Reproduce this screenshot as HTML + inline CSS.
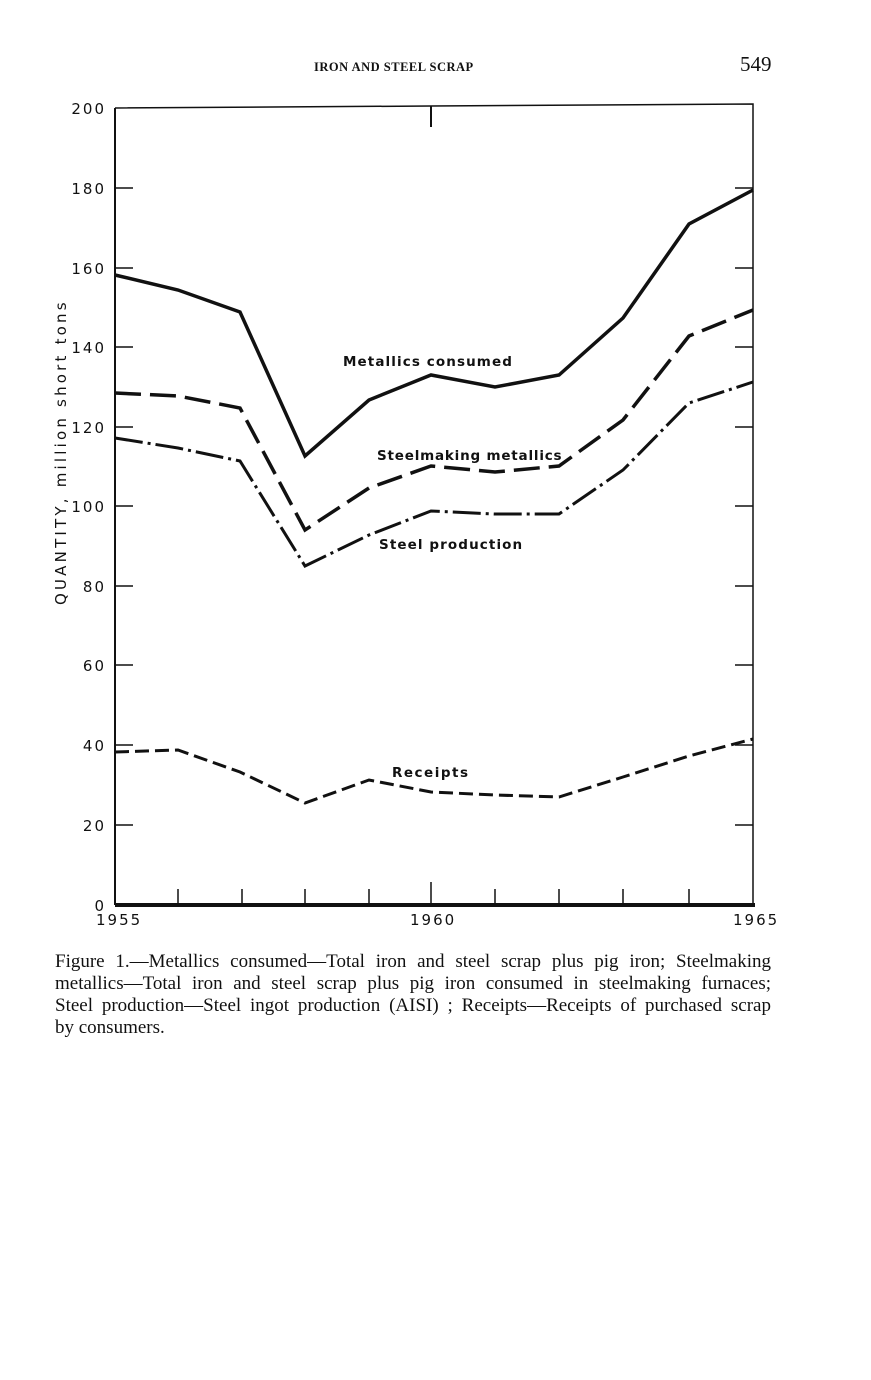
<!DOCTYPE html>
<html><head><style>
body{margin:0;background:#fff;width:871px;height:1380px;overflow:hidden;position:relative;font-family:"Liberation Serif",serif;color:#111}
.l{position:absolute;left:55px;width:716px;font-size:19px;line-height:22px;text-align:justify;text-align-last:justify;white-space:nowrap}
</style></head><body>
<div style="position:absolute;left:314px;top:60px;font-size:12.5px;font-weight:bold;letter-spacing:0.5px">IRON AND STEEL SCRAP</div>
<div style="position:absolute;left:740px;top:52px;font-size:21px">549</div>
<svg width="871" height="940" style="position:absolute;left:0;top:0" font-family="DejaVu Sans, Liberation Sans, sans-serif">
<g stroke="#111" fill="none">
<polyline points="115,108 431,106 753,104 753,905" stroke-width="1.5"/>
<line x1="115" y1="108" x2="115" y2="905" stroke-width="2"/>
<line x1="115" y1="905" x2="755" y2="905" stroke-width="4"/>
<line x1="431" y1="106" x2="431" y2="127" stroke-width="2"/>
<g stroke-width="1.5">
<line x1="178" y1="905" x2="178" y2="889"/><line x1="242" y1="905" x2="242" y2="889"/><line x1="305" y1="905" x2="305" y2="889"/><line x1="369" y1="905" x2="369" y2="889"/><line x1="431" y1="905" x2="431" y2="882"/><line x1="495" y1="905" x2="495" y2="889"/><line x1="559" y1="905" x2="559" y2="889"/><line x1="623" y1="905" x2="623" y2="889"/><line x1="689" y1="905" x2="689" y2="889"/>
<path d="M115 188h18M115 268h18M115 347h18M115 427h18M115 506h18M115 586h18M115 665h18M115 745h18M115 825h18"/>
<path d="M735 188h18M735 268h18M735 347h18M735 427h18M735 506h18M735 586h18M735 665h18M735 745h18M735 825h18"/>
</g>
<polyline stroke-width="3.5" points="115,275 178,290 240,312 305,456 369,400 431,375 495,387 559,375 623,318 689,224 753,190"/>
<polyline stroke-width="3.5" stroke-dasharray="26,9" points="115,393 178,396 240,408 305,530 369,488 431,466 495,472 559,466 623,420 689,336 753,310"/>
<polyline stroke-width="3" stroke-dasharray="28,5,3,5" points="115,438 178,448 240,461 305,566 369,535 431,511 495,514 559,514 623,470 689,403 753,382"/>
<polyline stroke-width="3" stroke-dasharray="14,6" points="115,752 178,750 240,772 305,803 369,780 431,792 495,795 559,797 623,777 689,756 753,739"/>
</g>
<g font-size="15" fill="#111" text-anchor="end" letter-spacing="2">
<text x="106" y="114">200</text><text x="106" y="194">180</text><text x="106" y="274">160</text><text x="106" y="353">140</text><text x="106" y="433">120</text><text x="106" y="512">100</text><text x="106" y="592">80</text><text x="106" y="671">60</text><text x="106" y="751">40</text><text x="106" y="831">20</text><text x="106" y="911">0</text>
</g>
<g font-size="15" fill="#111" letter-spacing="2">
<text x="96" y="925">1955</text><text x="410" y="925">1960</text><text x="733" y="925">1965</text>
<text transform="translate(66,605) rotate(-90)" font-size="15" letter-spacing="3.2">QUANTITY, million short tons</text>
<text x="343" y="366" font-size="13.5" font-weight="bold" letter-spacing="1.1">Metallics consumed</text>
<text x="377" y="460" font-size="13.5" font-weight="bold" letter-spacing="0.8">Steelmaking metallics</text>
<text x="379" y="549" font-size="13.5" font-weight="bold" letter-spacing="1.1">Steel production</text>
<text x="392" y="777" font-size="13.5" font-weight="bold" letter-spacing="1.5">Receipts</text>
</g>
</svg>
<div class="l" style="top:951px">Figure 1.—Metallics consumed—Total iron and steel scrap plus pig iron; Steelmaking</div>
<div class="l" style="top:973px">metallics—Total iron and steel scrap plus pig iron consumed in steelmaking furnaces;</div>
<div class="l" style="top:995px">Steel production—Steel ingot production (AISI) ; Receipts—Receipts of purchased scrap</div>
<div class="l" style="top:1017px;text-align-last:left">by consumers.</div>
</body></html>
